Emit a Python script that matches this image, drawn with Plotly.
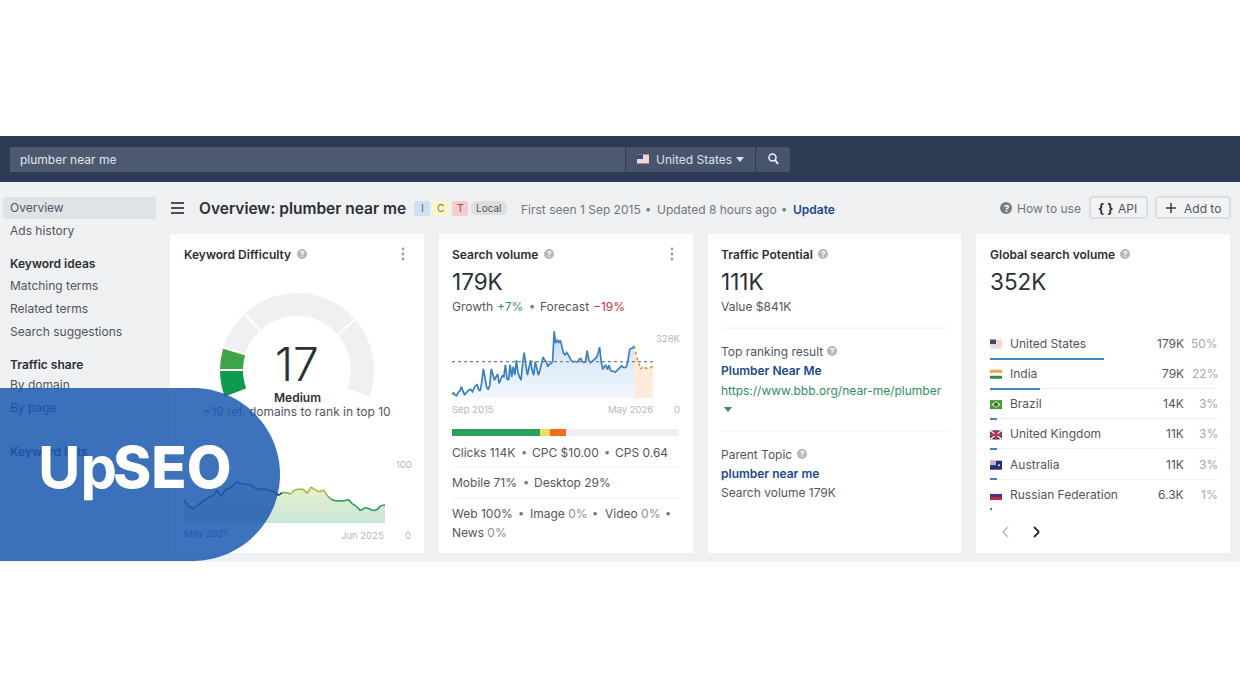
import pandas as pd
import plotly.graph_objects as go

W, H = 1240, 698

# ── Data ─────────────────────────────────────────────────────────────────
VOLUME_K = [17, 24, 14, 11, 27, 33, 52, 27, 14, 24, 33, 39, 39, 30, 46, 58, 62, 39, 33, 74,
            137, 84, 52, 39, 60, 137, 107, 84, 99, 112, 68, 85, 103, 99, 155, 91, 84, 155, 99, 147,
            107, 178, 120, 99, 84, 162, 213, 155, 107, 140, 178, 131, 107, 170, 131, 107, 130, 162, 191, 178,
            170, 147, 159, 162, 170, 312, 257, 273, 260, 270, 241, 210, 202, 213, 202, 186, 175, 170, 172, 170,
            169, 181, 185, 170, 166, 170, 222, 181, 166, 170, 175, 181, 190, 210, 238, 170, 134, 147, 153, 134,
            153, 128, 125, 125, 122, 128, 135, 144, 150, 144, 142, 147, 175, 226, 233, 233, 244]
FORECAST_K = [244, 210, 181, 162, 134, 144, 139, 142, 139, 142, 140, 144, 150]
VOLUME_AVG_K = 170
VOLUME_MAX_K = 328
KD_HISTORY = [33, 25, 21, 24, 29, 33, 38, 39, 48, 38, 48, 50, 55, 60, 57, 56, 56, 52, 48, 50,
              48, 47, 45, 40, 44, 44, 42, 48, 49, 49, 43, 52, 48, 45, 48, 39, 34, 32, 32, 32,
              34, 28, 24, 18, 22, 21, 18, 19, 25, 26]
GAUGE_ARCS = [21, 17, 30, 92, 62, 138]
GAUGE_COLORS = ["#0f9a4e", "#3fa548", "#eef0f1", "#eef0f1", "#eef0f1", "rgba(0,0,0,0)"]
CLICK_LABELS = ["Organic", "Paid mix", "Paid", "No clicks"]
CLICK_SHARE = [38.8, 4.3, 6.9, 50.0]
CLICK_COLORS = ["#2aa05e", "#f3dc5a", "#ee6c1c", "#eceeef"]
COUNTRIES = ["United States", "India", "Brazil", "United Kingdom", "Australia", "Russian Federation"]
COUNTRY_VOLUME = ["179K", "79K", "14K", "11K", "11K", "6.3K"]
COUNTRY_SHARE = [50, 22, 3, 3, 3, 1]
SIDEBAR = [("Overview", 207.5, 400), ("Ads history", 230, 400), ("Keyword ideas", 263, 600),
           ("Matching terms", 285, 400), ("Related terms", 308, 400), ("Search suggestions", 331, 400),
           ("Traffic share", 364, 600)]

FONT = "Inter"
INK = "#3a3f47"
DARK = "#2b2f36"
GREY = "#70767e"
FAINT = "#b4b8bd"
BLUE = "#1a4a8d"
BODY = "#50565e"

fig = go.Figure()
shapes = []
notes = []


def rect(x0, y0, x1, y1, color, line=None, layer="below"):
    shapes.append(dict(type="rect", x0=x0, y0=y0, x1=x1, y1=y1, xref="x", yref="y", fillcolor=color,
                       line=dict(color=line or color, width=1 if line else 0), layer=layer))


def rounded(x0, y0, x1, y1, r, color, line=None):
    path = (f"M{x0 + r},{y0} L{x1 - r},{y0} Q{x1},{y0} {x1},{y0 + r} L{x1},{y1 - r} Q{x1},{y1} {x1 - r},{y1} "
            f"L{x0 + r},{y1} Q{x0},{y1} {x0},{y1 - r} L{x0},{y0 + r} Q{x0},{y0} {x0 + r},{y0} Z")
    shapes.append(dict(type="path", path=path, xref="x", yref="y", fillcolor=color,
                       line=dict(color=line or color, width=1 if line else 0), layer="below"))


def seg(x0, y0, x1, y1, color, width=1):
    shapes.append(dict(type="line", x0=x0, y0=y0, x1=x1, y1=y1, xref="x", yref="y",
                       line=dict(color=color, width=width), layer="below"))


def dot(cx, cy, r, color):
    shapes.append(dict(type="circle", x0=cx - r, y0=cy - r, x1=cx + r, y1=cy + r, xref="x", yref="y",
                       fillcolor=color, line=dict(width=0), layer="below"))


def label(x, y, text, size=12, color=INK, weight=400, anchor="left"):
    # annotations carry about 2px of padding, take it back out
    nudge = {"left": -2, "right": 2, "center": 0}[anchor]
    notes.append(dict(x=x + nudge, y=y, xref="x", yref="y", text=text, showarrow=False, xanchor=anchor, yanchor="middle",
                      font=dict(family=FONT, size=size, color=color, weight=weight)))


def help_icon(x, y, r=5, color=FAINT):
    dot(x, y, r, color)
    label(x, y, "?", size=r * 1.6, color="white", weight=700, anchor="center")


def more_dots(x, y):
    for dy in (-5, 0, 5):
        dot(x, y + dy, 1.4, "#9a9ea4")


# ── Page chrome ──────────────────────────────────────────────────────────
rect(0, 182, W, 562, "#eef0f2")
rect(0, 136, W, 182, "#2d3b55")
rect(10, 147, 625, 172, "#4d596f")
rect(626, 147, 755, 172, "#48546b")
rounded(756, 147, 790, 172, 3, "#48546b")
label(20, 159, "plumber near me", 12, "#e2e5ea")
label(656, 159, "United States", 12, "#dde0e6")
shapes.append(dict(type="path", path="M736,157 L744,157 L740,162 Z", xref="x", yref="y",
                   fillcolor="#dde0e6", line=dict(width=0), layer="below"))
shapes.append(dict(type="circle", x0=769, y0=154, x1=776, y1=161, xref="x", yref="y",
                   line=dict(color="#eef0f3", width=1.6), layer="below"))
seg(775, 160, 778, 164, "#eef0f3", 1.8)

rect(3, 197, 156, 219, "#dfe2e6")
for name, y, weight in SIDEBAR:
    label(10, y, name, 12, DARK if weight > 400 else BODY, weight)

for y in (203, 208, 213):
    seg(171, y, 184, y, DARK, 1.7)
label(199, 208, "Overview: plumber near me", 15.5, DARK, 600)
for x0, x1, color, letter, ink in [(414, 430, "#cfe0f3", "I", "#4a6fa5"), (433, 449, "#fdf5cc", "C", "#8a7a2a"),
                                   (452, 468, "#f6cccd", "T", "#a8484c")]:
    rounded(x0, 201, x1, 216, 2, color)
    label((x0 + x1) / 2, 208, letter, 10.5, ink, 400, "center")
rounded(471, 201, 507, 215, 6, "#dcdee0")
label(489, 208, "Local", 10, BODY, 400, "center")
label(521, 209, "First seen 1 Sep 2015", 12, GREY)
label(645, 209, "•", 11, GREY)
label(657, 209, "Updated 8 hours ago", 12, GREY)
label(781, 209, "•", 11, GREY)
label(793, 209, "Update", 12, BLUE, 600)

help_icon(1006, 208, 6, "#777c83")
label(1017, 208, "How to use", 12, GREY)
rounded(1090, 197, 1147, 218, 2, "#f2f3f5", "#c6cacf")
label(1105, 208, "{ }", 13, DARK, 700, "center")
label(1118, 208, "API", 12, BODY)
rounded(1156, 197, 1230, 218, 2, "#f2f3f5", "#c6cacf")
seg(1166, 208, 1176, 208, DARK, 1.4)
seg(1171, 203, 1171, 213, DARK, 1.4)
label(1184, 208, "Add to", 12, BODY)

for x0, x1 in [(170, 424), (439, 693), (708, 961), (976, 1230)]:
    rect(x0, 234, x1, 553, "white")

# ── Keyword difficulty card ──────────────────────────────────────────────
label(184, 254, "Keyword Difficulty", 12, DARK, 600)
help_icon(302, 254)
more_dots(403, 254)
label(297, 364, "17", 46, DARK, 300, "center")
label(297, 397, "Medium", 12, DARK, 600, "center")
label(396, 464, "100", 9.5, FAINT)
label(384, 535, "Jun 2025", 9.5, FAINT, 400, "right")
label(411, 535, "0", 9.5, FAINT, 400, "right")

# ── Search volume card ───────────────────────────────────────────────────
label(452, 254, "Search volume", 12, DARK, 600)
help_icon(549, 254)
more_dots(672, 254)
label(452, 281, "179K", 22.5, DARK)
label(452, 306, "Growth", 12, BODY)
label(497, 306, "+7%", 12, "#2f9a5b")
label(529, 306, "•", 11, GREY)
label(540, 306, "Forecast", 12, BODY)
label(593, 306, "−19%", 12, "#c4343a")
label(656, 338, "328K", 9.5, FAINT)
label(680, 409, "0", 9.5, FAINT, 400, "right")
label(452, 409, "Sep 2015", 9.5, FAINT)
label(653, 409, "May 2026", 9.5, FAINT, 400, "right")
for x, y, text in [(452, 452, "Clicks 114K"), (532, 452, "CPC $10.00"), (615, 452, "CPS 0.64"),
                   (452, 482, "Mobile 71%"), (534, 482, "Desktop 29%"), (452, 513, "Web 100%")]:
    label(x, y, text, 12, BODY)
for x, y in [(521, 452), (604, 452), (523, 482), (518, 513), (592, 513), (665, 513)]:
    label(x, y, "•", 11, GREY)
label(530, 513, 'Image <span style="color:#8b9097">0%</span>', 12, BODY)
label(605, 513, 'Video <span style="color:#8b9097">0%</span>', 12, BODY)
label(452, 532, 'News <span style="color:#8b9097">0%</span>', 12, BODY)
seg(452, 467, 680, 467, "#eef0f2")
seg(452, 498, 680, 498, "#eef0f2")

# ── Traffic potential card ───────────────────────────────────────────────
label(721, 254, "Traffic Potential", 12, DARK, 600)
help_icon(823, 254)
label(721, 281, "111K", 22.5, DARK)
label(721, 306, "Value $841K", 12, BODY)
seg(721, 328, 948, 328, "#eef0f2")
label(721, 351, "Top ranking result", 12, BODY)
help_icon(832, 351)
label(721, 370, "Plumber Near Me", 12, BLUE, 600)
label(721, 390, "https://www.bbb.org/near-me/plumber", 12, "#2f8f5f")
shapes.append(dict(type="path", path="M724,407 L732,407 L728,412 Z", xref="x", yref="y",
                   fillcolor="#2f8f5f", line=dict(width=0), layer="below"))
seg(721, 431, 948, 431, "#eef0f2")
label(721, 454, "Parent Topic", 12, BODY)
help_icon(802, 454)
label(721, 473, "plumber near me", 12, BLUE, 600)
label(721, 492, "Search volume 179K", 12, BODY)

# ── Global search volume card ────────────────────────────────────────────
label(990, 254, "Global search volume", 12, DARK, 600)
help_icon(1125, 254)
label(990, 281, "352K", 22.5, DARK)
ROW_Y0, ROW_STEP = 343, 30.3
for i, name in enumerate(COUNTRIES):
    y = ROW_Y0 + i * ROW_STEP
    label(1010, y, name, 12, BODY)
    label(1184, y, COUNTRY_VOLUME[i], 12, BODY, 400, "right")
    label(1218, y, f"{COUNTRY_SHARE[i]}%", 12, "#a4a8ae", 400, "right")
seg(1008, 527, 1003, 532, "#b5b9be", 1.6)
seg(1003, 532, 1008, 537, "#b5b9be", 1.6)
seg(1034, 527, 1039, 532, DARK, 1.8)
seg(1039, 532, 1034, 537, DARK, 1.8)


def flag(x, y, name):
    x1, y0, y1 = x + 12, y - 4.5, y + 4.5
    if name == "United States":
        rect(x, y0, x1, y1, "#f3d5d8")
        rect(x, y0, x + 6, y, "#3d4a80")
    elif name == "India":
        rect(x, y0, x1, y0 + 3, "#f0a24a")
        rect(x, y0 + 3, x1, y0 + 6, "#f6f6f0")
        rect(x, y0 + 6, x1, y1, "#2f8f3f")
    elif name == "Brazil":
        rect(x, y0, x1, y1, "#3a9a45")
        shapes.append(dict(type="path", path=f"M{x + 1},{y} L{x + 6},{y0 + 1} L{x + 11},{y} L{x + 6},{y1 - 1} Z",
                           xref="x", yref="y", fillcolor="#e8d84a", line=dict(width=0), layer="below"))
        dot(x + 6, y, 2, "#33518f")
    elif name == "United Kingdom":
        rect(x, y0, x1, y1, "#2c3a7c")
        seg(x, y0, x1, y1, "#f0e6e8", 1.6)
        seg(x, y1, x1, y0, "#f0e6e8", 1.6)
        seg(x + 6, y0, x + 6, y1, "#d32f3f", 2.4)
        seg(x, y, x1, y, "#d32f3f", 2.4)
    elif name == "Australia":
        rect(x, y0, x1, y1, "#222f78")
        rect(x, y0, x + 6, y, "#c9b3c0")
        dot(x + 9, y, 1, "#f3f3f3")
    else:
        rect(x, y0, x1, y0 + 3, "#f5f5f7")
        rect(x, y0 + 3, x1, y0 + 6, "#2b3a8c")
        rect(x, y0 + 6, x1, y1, "#cf2436")


for i, name in enumerate(COUNTRIES):
    flag(990, ROW_Y0 + 1 + i * ROW_STEP, name)
flag(637, 159, "United States")

# Main pixel canvas; text kept here sits underneath the translucent logo blob
fig.add_trace(go.Scatter(
    x=[10, 10, 10, 184], y=[386, 409, 453, 535], text=["By domain", "By page", "Keyword lists", "May 2021"],
    mode="text", textposition="middle right", hoverinfo="skip", showlegend=False,
    textfont=dict(family=FONT, size=[12, 12, 12, 9.5], color=[BODY, "#16233c", "#0f1c33", "#33496e"],
                  weight=[400, 400, 600, 400]),
))
fig.add_trace(go.Scatter(
    x=[297], y=[413], text=["~19 ref. domains to rank in top 10"], mode="text", textposition="middle center",
    hoverinfo="skip", showlegend=False, textfont=dict(family=FONT, size=12, color=BODY),
))

# ── Charts ───────────────────────────────────────────────────────────────
months = pd.date_range("2015-09-01", periods=len(VOLUME_K), freq="MS")
fc_months = pd.date_range(months[-1], periods=len(FORECAST_K), freq="MS")
span = fc_months[-1] - months[0]
fig.add_trace(go.Scatter(
    x=months, y=VOLUME_K, xaxis="x2", yaxis="y2", mode="lines", line=dict(color="#3a7fc4", width=1.7),
    fill="tozeroy", fillgradient=dict(type="vertical", colorscale=[[0, "#f3f8fd"], [1, "#c9def3"]]),
    hoverinfo="skip", showlegend=False,
))
fig.add_trace(go.Scatter(
    x=fc_months, y=FORECAST_K, xaxis="x2", yaxis="y2", mode="lines", line=dict(color="#e08a2c", width=1.5, dash="dot"),
    fill="tozeroy", fillcolor="rgba(252,205,160,0.4)", hoverinfo="skip", showlegend=False,
))
fig.add_trace(go.Scatter(
    x=[months[0], fc_months[-1]], y=[VOLUME_AVG_K, VOLUME_AVG_K], xaxis="x2", yaxis="y2", mode="lines",
    line=dict(color="#777c83", width=1.2, dash="dot"), hoverinfo="skip", showlegend=False,
))

kd_months = pd.date_range("2021-05-01", periods=len(KD_HISTORY), freq="MS")
fig.add_trace(go.Scatter(
    x=kd_months, y=KD_HISTORY, xaxis="x3", yaxis="y3", mode="none", fill="tozeroy",
    fillgradient=dict(type="vertical", colorscale=[[0, "#c8e6d8"], [1, "#eef3c8"]]),
    hoverinfo="skip", showlegend=False,
))


def kd_color(i, v):
    # first stretch runs under the logo, where the reference line reads much darker
    if i < 24:
        return "#123a4a"
    if v >= 45:
        return "#a3b83c"
    if v >= 36:
        return "#6cae4e"
    return "#23986c"


for i in range(len(KD_HISTORY) - 1):
    fig.add_trace(go.Scatter(
        x=kd_months[i:i + 2], y=KD_HISTORY[i:i + 2], xaxis="x3", yaxis="y3", mode="lines",
        line=dict(color=kd_color(i, max(KD_HISTORY[i:i + 2])), width=1.6), hoverinfo="skip", showlegend=False,
    ))

for name, share, color in zip(CLICK_LABELS, CLICK_SHARE, CLICK_COLORS):
    fig.add_trace(go.Bar(
        x=[share], y=[0], xaxis="x4", yaxis="y4", orientation="h", name=name,
        marker=dict(color=color, line=dict(width=0)), hoverinfo="skip", showlegend=False, width=1,
    ))

fig.add_trace(go.Bar(
    x=COUNTRY_SHARE, y=COUNTRIES, xaxis="x5", yaxis="y5", orientation="h",
    marker=dict(color="#3f86c6", line=dict(width=0)), hoverinfo="skip", showlegend=False, width=0.07,
))

fig.add_trace(go.Pie(
    values=GAUGE_ARCS, sort=False, direction="clockwise", rotation=-111, hole=0.68, textinfo="none",
    hoverinfo="skip", showlegend=False,
    marker=dict(colors=GAUGE_COLORS, line=dict(color="white", width=[2, 2, 2, 2, 2, 0])),
    domain=dict(x=[219 / W, 375 / W], y=[1 - 448 / H, 1 - 292 / H]),
))

# ── Logo overlay ─────────────────────────────────────────────────────────
k = 47.8  # bezier handle for the rounded end
shapes.append(dict(
    type="path", xref="x", yref="y", layer="above", opacity=0.86, fillcolor="#1d5bb2", line=dict(width=0),
    path=f"M0,388 L193,388 C{193 + k},388 280,{474.5 - k} 280,474.5 C280,{474.5 + k} {193 + k},561 193,561 L0,561 Z",
))
label(38, 467, "Up", 58, "white", 700)
label(113, 467, "SEO", 58, "white", 800)


def px_dom(a, b, total):
    return [a / total, b / total]


def py_dom(top, bottom):
    return [1 - bottom / H, 1 - top / H]


hidden = dict(visible=False, fixedrange=True)
fig.update_layout(
    width=W, height=H, margin=dict(l=0, r=0, t=0, b=0), paper_bgcolor="white", plot_bgcolor="rgba(0,0,0,0)",
    barmode="stack", showlegend=False, shapes=shapes, annotations=notes,
    font=dict(family=FONT),
    xaxis=dict(range=[0, W], domain=[0, 1], **hidden),
    yaxis=dict(range=[H, 0], domain=[0, 1], **hidden),
    xaxis2=dict(domain=px_dom(452, 680, W), range=[months[0], months[0] + span * (228 / 201)], visible=False,
                anchor="y2", fixedrange=True),
    yaxis2=dict(domain=py_dom(328, 398), range=[0, VOLUME_MAX_K], tickvals=[0, VOLUME_MAX_K], showticklabels=False,
                gridcolor="#e9ebed", zeroline=False, showline=False, anchor="x2", fixedrange=True),
    xaxis3=dict(domain=px_dom(184, 412, W), range=[kd_months[0], kd_months[0] + (kd_months[-1] - kd_months[0]) * (228 / 201)],
                visible=False, anchor="y3", fixedrange=True),
    yaxis3=dict(domain=py_dom(454, 523), range=[0, 100], tickvals=[0, 100], showticklabels=False,
                gridcolor="#e9ebed", zeroline=False, showline=False, anchor="x3", fixedrange=True),
    xaxis4=dict(domain=px_dom(452, 679, W), range=[0, 100], visible=False, anchor="y4", fixedrange=True),
    yaxis4=dict(domain=py_dom(429, 436), range=[-0.5, 0.5], visible=False, anchor="x4", fixedrange=True),
    xaxis5=dict(domain=px_dom(990, 1217, W), range=[0, 100], visible=False, anchor="y5", fixedrange=True),
    yaxis5=dict(domain=py_dom(357.7, 510), range=[5.03, -0.03], type="category", categoryorder="array",
                categoryarray=COUNTRIES, showticklabels=False, ticks="", gridcolor="#eef0f2", zeroline=False,
                showline=False, anchor="x5", fixedrange=True),
)

# the page's default body margin would shift the whole canvas by 8px
fig.write_html("out.html", config={"displayModeBar": False},
               post_script="document.body.style.margin='0';document.documentElement.style.overflow='hidden';")
